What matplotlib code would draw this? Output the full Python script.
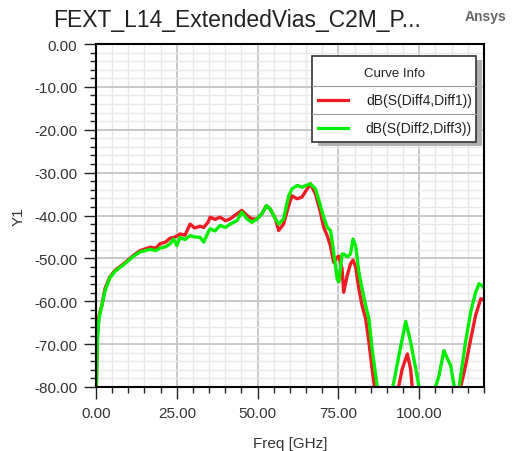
import matplotlib
matplotlib.use('Agg')
import matplotlib.pyplot as plt
from matplotlib.patches import Rectangle
from matplotlib.lines import Line2D
from matplotlib.ticker import MultipleLocator, FormatStrFormatter

plt.rcParams['font.family'] = ['Liberation Sans', 'DejaVu Sans']

# dB(S(Diff4,Diff1)) - values
freq_41 = [0, 0.2, 0.4, 0.8, 1.2, 1.8, 2.8, 4.3, 5.9, 8.5, 11.6, 13.6, 16.7, 18.5, 19.8, 21.5,
           22.9, 24.5, 26, 27.5, 29.1, 30.5, 32.2, 33.3, 34.7, 35.3, 36.8, 38.4, 40, 41.5, 43.6,
           45.1, 46.7, 48.2, 49.8, 51.3, 52.7, 53.9, 55.5, 56.5, 58, 59.6, 60.6, 62.2, 63.7,
           65.3, 66.3, 67.9, 69.4, 70.4, 71.5, 72.5, 73.5, 74.6, 75.1, 76.1, 76.6, 77.7, 78.7,
           79.5, 80.3, 81.3, 82.3, 83.4, 84.4, 85.4, 86.5, 88, 91, 93.7, 94.7, 96.3, 97.3,
           97.8, 99, 105, 111, 112.8, 114.3, 115.9, 117.4, 119, 120]
db_41 = [-82, -76, -68, -64, -62.5, -61, -57, -54.3, -52.8, -51.3, -49.3, -48.2, -47.4, -47.6,
         -46.6, -46.2, -45.3, -45.0, -44.3, -44.6, -42.0, -42.9, -42.5, -42.8, -41.5, -40.4,
         -40.9, -40.4, -41.2, -40.8, -39.6, -38.8, -40.0, -40.8, -40.8, -39.6, -37.7, -38.5,
         -40.8, -43.5, -42.0, -37.7, -35.4, -36.1, -35.7, -33.8, -32.6, -35.0, -39.2, -42.7,
         -44.7, -47.0, -50.9, -49.7, -49.5, -52.4, -57.9, -54.0, -51.3, -50.4, -52.0, -57.1,
         -61.0, -64.1, -69.5, -75.8, -82, -88, -84, -79.6, -75.8, -72.3, -75.8, -80, -86, -90,
         -86, -80, -75.0, -68.8, -63.3, -59.4, -59.7]

# dB(S(Diff2,Diff3))
freq_23 = [0, 0.2, 0.4, 0.8, 1.2, 1.8, 2.8, 4.3, 5.9, 8.5, 11.6, 13.6, 16.7, 18.5, 19.8, 21.5,
           22.9, 24, 25, 26, 27.5, 29.1, 30.5, 32.2, 33.3, 34.7, 35.3, 36.8, 38.4, 40, 41.5,
           43.6, 45.1, 46.7, 48.2, 49.8, 51.3, 52.7, 53.9, 55.5, 56.5, 58, 59.6, 60.6, 62.2,
           63.7, 65.3, 66.3, 67.9, 69.4, 70.4, 71.5, 72.5, 73, 73.5, 74.6, 75.1, 76.1, 76.6,
           77.7, 78.7, 79.5, 80.3, 81.3, 82.3, 83.4, 84.4, 85.4, 86.5, 87, 88, 90, 92.1, 93.7,
           95.8, 97.3, 98.9, 99.9, 101, 104, 105, 106.1, 107.6, 108.7, 109.7, 110.8, 111.5,
           112.3, 114.3, 115.9, 117.4, 118.5, 119.8, 120]
db_23 = [-82, -78, -70, -65, -63, -61, -57.5, -54.5, -53, -51.5, -49.5, -48.5, -47.9, -48.2,
         -47.6, -47.3, -46.6, -45.5, -47.0, -45.1, -45.6, -44.7, -45.0, -45.1, -46.2, -43.9,
         -43.1, -43.6, -42.3, -42.8, -42.0, -41.2, -39.2, -40.8, -41.6, -40.8, -39.6, -37.7,
         -38.5, -40.8, -42.0, -40.8, -35.4, -33.8, -33.0, -33.4, -32.9, -32.6, -33.8, -37.7,
         -40.4, -42.7, -43.5, -45.8, -48.6, -54.8, -55.5, -49.0, -49.0, -49.6, -49.0, -45.5,
         -47.0, -53.2, -57.1, -61.0, -64.1, -71.1, -77.3, -80, -86, -86, -78.9, -72.6, -64.7,
         -69.5, -75.8, -80, -86, -86, -80, -77.3, -71.5, -73.4, -75.0, -80, -84, -80, -69.5,
         -62.5, -57.9, -55.9, -56.6, -57]

labels = ['dB(S(Diff4,Diff1))', 'dB(S(Diff2,Diff3))']
colors = ['#ee1c25', '#00ee00']

fig = plt.figure(figsize=(5.12, 4.52), dpi=100)
ax = fig.add_axes([0.1875, 0.1416, 0.7578, 0.7588])

ax.plot(freq_41, db_41, color=colors[0], lw=2.4)
ax.plot(freq_23, db_23, color=colors[1], lw=2.4)

ax.set_xlim(0, 120)
ax.set_ylim(-80, 0)
ax.xaxis.set_major_locator(MultipleLocator(25))
ax.xaxis.set_minor_locator(MultipleLocator(5))
ax.yaxis.set_major_locator(MultipleLocator(10))
ax.yaxis.set_minor_locator(MultipleLocator(2))
ax.xaxis.set_major_formatter(FormatStrFormatter('%.2f'))
ax.yaxis.set_major_formatter(FormatStrFormatter('%.2f'))
ax.grid(which='major', color='#c8c8c8', lw=1.4)
ax.grid(which='minor', color='#e8e8e8', lw=1.0)
ax.set_axisbelow(True)
ax.tick_params(which='major', length=8.5, width=1, color='#222222', labelsize=11,
               labelcolor='#333333', pad=5)
ax.tick_params(which='minor', length=4, width=1, color='#222222')
for s in ax.spines.values():
    s.set_color('black')
    s.set_linewidth(1.5)

ax.set_xlabel('Freq [GHz]', fontsize=11, color='#333333', labelpad=12)
ax.set_ylabel('Y1', fontsize=11, color='#333333', labelpad=6)

fig.text(0.463, 0.94, 'FEXT_L14_ExtendedVias_C2M_P...', fontsize=16.5, ha='center',
         va='baseline', color='#222222')
fig.text(0.99, 0.962, 'Ansys', fontsize=10, fontweight='bold', ha='right',
         va='center', color='#666666')

# legend box ("Curve Info") with shadow and row separators
x0, x1 = 312 / 512, 476 / 512
y0, y1 = 1 - 143 / 452, 1 - 57 / 452
fig.add_artist(Rectangle((x0 + 6 / 512, y0 - 4 / 452), x1 - x0, y1 - y0,
                         transform=fig.transFigure, facecolor='#b0b0b0', edgecolor='none', zorder=5))
fig.add_artist(Rectangle((x0, y0), x1 - x0, y1 - y0, transform=fig.transFigure,
                         facecolor='white', edgecolor='#333333', lw=1.2, zorder=6))
for ysep in [1 - 87 / 452, 1 - 115 / 452]:
    fig.add_artist(Line2D([x0, x1], [ysep, ysep], transform=fig.transFigure,
                          color='#999999', lw=0.8, zorder=7))
fig.text(394 / 512, 1 - 74 / 452, 'Curve Info', fontsize=9.5, ha='center', va='center',
         color='#222222', zorder=8)
for i, (lab, c) in enumerate(zip(labels, colors)):
    yy = 1 - (101 + 28 * i) / 452
    fig.add_artist(Line2D([318 / 512, 348 / 512], [yy, yy], transform=fig.transFigure,
                          color=c, lw=2.3, zorder=8))
    fig.text(472 / 512, yy, lab, fontsize=10, ha='right', va='center',
             color='#222222', zorder=8)

fig.savefig('out.png', dpi=100)
